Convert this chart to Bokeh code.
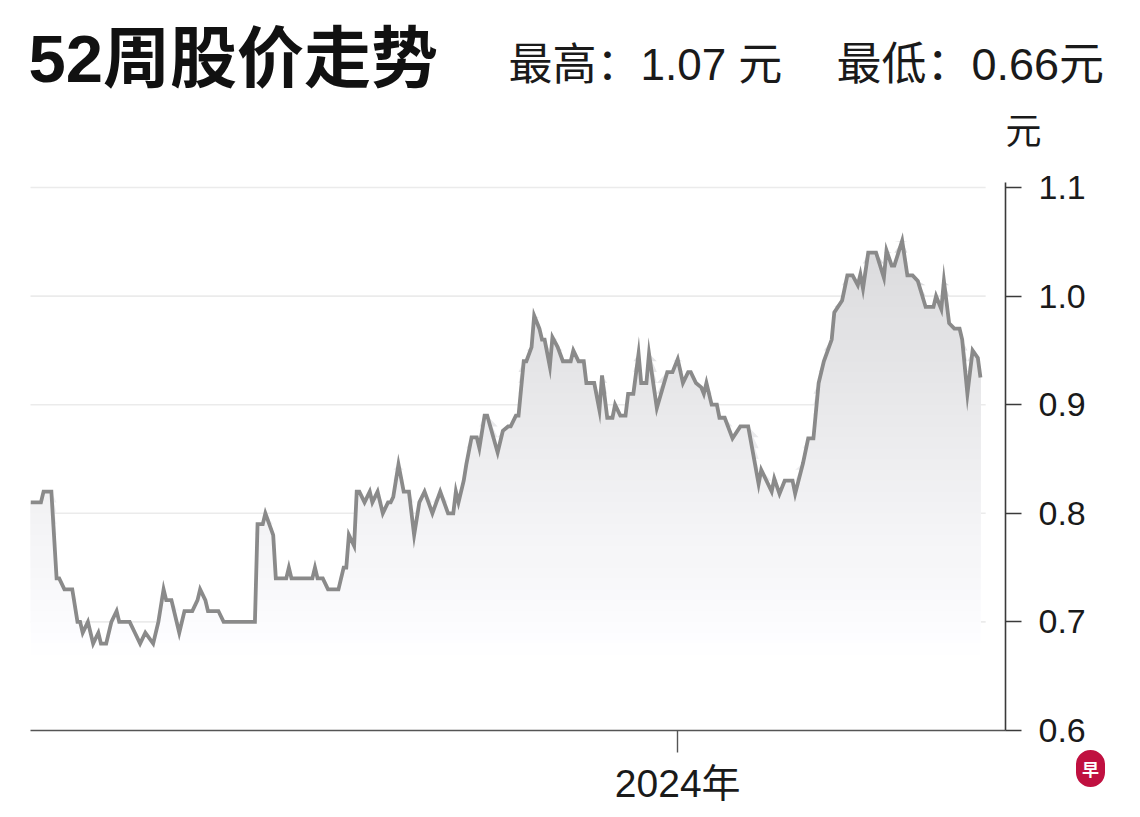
import numpy as np
import pandas as pd
from bokeh.plotting import figure
from bokeh.models import (Range1d, FixedTicker, PrintfTickFormatter, Label,
                          LinearAxis)
from bokeh.embed import file_html
from bokeh.resources import INLINE

# ---------------- data ----------------
start_date = "2023-04-28"
day_offsets = [0, 4, 5, 8, 10, 11, 13, 16, 18, 19, 20, 22, 24, 26, 27, 29, 31, 33, 34, 38,
               40, 42, 44, 47, 49, 51, 52, 54, 57, 59, 62, 64, 65, 67, 68, 72, 74, 86, 87, 89,
               90, 93, 94, 98, 99, 100, 108, 109, 110, 112, 114, 118, 120, 121, 122, 124, 125, 126, 128, 130,
               131, 133, 135, 137, 138, 139, 141, 143, 145, 147, 149, 151, 154, 157, 160, 162, 163, 164, 166, 167,
               169, 171, 172, 174, 175, 179, 181, 183, 184, 186, 187, 189, 190, 192, 193, 195, 196, 197, 199, 200,
               202, 204, 207, 208, 210, 212, 213, 216, 218, 219, 221, 223, 224, 226, 228, 229, 231, 233, 234, 236,
               237, 240, 244, 246, 248, 250, 252, 253, 255, 257, 258, 259, 261, 263, 264, 266, 269, 272, 275, 279,
               280, 284, 285, 287, 289, 292, 293, 296, 298, 300, 302, 304, 307, 308, 311, 313, 315, 317, 318, 319,
               321, 324, 327, 328, 330, 331, 334, 336, 338, 340, 343, 346, 347, 349, 350, 352, 354, 356, 357, 359,
               361, 363, 364]
price = [0.81, 0.81, 0.82, 0.82, 0.74, 0.74, 0.73, 0.73, 0.70, 0.70, 0.69, 0.70, 0.68, 0.69, 0.68, 0.68, 0.70, 0.71, 0.70, 0.70,
         0.69, 0.68, 0.69, 0.68, 0.70, 0.73, 0.72, 0.72, 0.69, 0.71, 0.71, 0.72, 0.73, 0.72, 0.71, 0.71, 0.70, 0.70, 0.79, 0.79,
         0.80, 0.78, 0.74, 0.74, 0.75, 0.74, 0.74, 0.75, 0.74, 0.74, 0.73, 0.73, 0.75, 0.75, 0.78, 0.77, 0.82, 0.82, 0.81, 0.82,
         0.81, 0.82, 0.80, 0.81, 0.81, 0.815, 0.845, 0.82, 0.82, 0.78, 0.81, 0.82, 0.80, 0.82, 0.80, 0.80, 0.82, 0.81, 0.83, 0.845,
         0.87, 0.87, 0.86, 0.89, 0.89, 0.856, 0.876, 0.88, 0.88, 0.89, 0.89, 0.94, 0.94, 0.953, 0.982, 0.97, 0.96, 0.96, 0.935, 0.962,
         0.953, 0.94, 0.94, 0.95, 0.94, 0.94, 0.92, 0.92, 0.895, 0.927, 0.888, 0.888, 0.90, 0.89, 0.89, 0.91, 0.91, 0.947, 0.92, 0.92,
         0.947, 0.897, 0.93, 0.93, 0.942, 0.92, 0.93, 0.93, 0.92, 0.916, 0.91, 0.92, 0.90, 0.90, 0.888, 0.888, 0.869, 0.88, 0.88, 0.827,
         0.84, 0.82, 0.832, 0.818, 0.83, 0.83, 0.818, 0.846, 0.869, 0.869, 0.92, 0.94, 0.96, 0.985, 0.996, 1.019, 1.019, 1.01, 1.02, 1.007,
         1.04, 1.04, 1.017, 1.042, 1.028, 1.028, 1.051, 1.019, 1.019, 1.014, 0.99, 0.99, 1.0, 0.988, 1.014, 0.975, 0.97, 0.97, 0.96, 0.91,
         0.95, 0.943, 0.925]

y_ticks = [0.6, 0.7, 0.8, 0.9, 1.0, 1.1]
x_tick_date = "2024-01-01"
x_tick_label = "2024年"
title_text = "52周股价走势"
high_text = "最高：1.07 元"
low_text = "最低：0.66元"
unit_text = "元"
logo_text = "早"

# ---------------- layout constants (pixels) ----------------
W, H = 1135, 812
F_LEFT, F_RIGHT, F_BOTTOM = 30, 1005, 730
F_TOP = 182
PX_PER_UNIT = 1086.0          # pixels per 1.0 of price
X_SPAN_DAYS = 373.6
FRAME_W = F_RIGHT - F_LEFT

t0 = pd.Timestamp(start_date)
dates = t0 + pd.to_timedelta(day_offsets, unit="D")
prices = np.array(price)

y_lo = 0.6
y_hi = y_lo + (F_BOTTOM - F_TOP) / PX_PER_UNIT
x_start = t0
x_end = t0 + pd.Timedelta(days=X_SPAN_DAYS)


def xpos(px):
    """page pixel column -> x data value, through the plot's linear scale"""
    return t0 + pd.Timedelta(days=(px - F_LEFT) / FRAME_W * X_SPAN_DAYS)


def ypos(py):
    """page pixel row -> y data value"""
    return y_lo + (F_BOTTOM - py) / PX_PER_UNIT


p = figure(width=W, height=H, x_axis_type="datetime",
           x_range=Range1d(x_start, x_end), y_range=Range1d(y_lo, y_hi),
           output_backend="svg", toolbar_location=None,
           min_border_left=F_LEFT, min_border_right=W - F_RIGHT,
           min_border_top=F_TOP, min_border_bottom=H - F_BOTTOM)
p.outline_line_color = None
p.background_fill_color = "white"
p.border_fill_color = "white"
p.xgrid.visible = False
p.ygrid.visible = False

g_x0 = dates[0] - pd.Timedelta(days=2)
g_x1 = dates[-1] + pd.Timedelta(days=2)
for yt in y_ticks[1:]:
    p.segment(x0=[g_x0], y0=[yt], x1=[g_x1], y1=[yt], line_color="#ebebeb", line_width=1.6)

levels = np.arange(0.60, 1.14, 0.01)
for lo in levels:
    frac = np.clip((lo - 0.66) / (1.06 - 0.66), 0, 1)
    shade = int(round(255 - frac * 38))
    col = "#%02x%02x%02x" % (shade, shade, min(255, shade + 2))
    top = np.maximum(prices, lo)
    p.varea(x=dates, y1=lo, y2=top, fill_color=col, fill_alpha=1.0)

p.line(dates, prices, line_color="#8a8a8a", line_width=3.8, line_join="miter")

p.yaxis.visible = False
yax = LinearAxis(ticker=FixedTicker(ticks=y_ticks),
                 formatter=PrintfTickFormatter(format="%.1f"))
yax.axis_line_color = "#3a3a3a"
yax.axis_line_width = 1.6
yax.major_tick_line_color = "#3a3a3a"
yax.major_tick_line_width = 1.4
yax.major_tick_in = 0
yax.major_tick_out = 16
yax.minor_tick_line_color = None
yax.major_label_standoff = 17
yax.major_label_text_font = "Liberation Sans"
yax.major_label_text_font_size = "34px"
yax.major_label_text_color = "#1a1a1a"
p.add_layout(yax, "right")

tick_ms = float(pd.Timestamp(x_tick_date).value // 10**6)
xax = p.xaxis[0]
xax.ticker = FixedTicker(ticks=[tick_ms])
xax.major_label_overrides = {tick_ms: x_tick_label}
xax.axis_line_color = "#555555"
xax.axis_line_width = 1.6
xax.major_tick_line_color = "#555555"
xax.major_tick_line_width = 1.4
xax.major_tick_in = 0
xax.major_tick_out = 22
xax.minor_tick_line_color = None
xax.major_label_standoff = 9
xax.major_label_text_font = "Liberation Sans, Noto Sans CJK SC"
xax.major_label_text_font_size = "39px"
xax.major_label_text_color = "#1a1a1a"

# ---- texts: placed in side panels (not clipped), positioned via the scales ----
p.add_layout(Label(x=xpos(28), y=ypos(58), text=title_text,
                   text_font="Liberation Sans, Noto Sans CJK SC", text_font_style="bold",
                   text_font_size="67px", text_color="#111111", text_baseline="middle"), "above")
p.add_layout(Label(x=xpos(508), y=ypos(64), text=high_text,
                   text_font="Liberation Sans, Noto Sans CJK SC",
                   text_font_size="44px", text_color="#1a1a1a", text_baseline="middle"), "above")
p.add_layout(Label(x=xpos(836), y=ypos(64), text=low_text,
                   text_font="Liberation Sans, Noto Sans CJK SC",
                   text_font_size="45px", text_color="#1a1a1a", text_baseline="middle"), "above")
p.add_layout(Label(x=xpos(1005), y=ypos(127), text=unit_text,
                   text_font="Noto Sans CJK SC",
                   text_font_size="36px", text_color="#1a1a1a", text_baseline="middle"), "right")
p.add_layout(Label(x=xpos(1090), y=ypos(768), text=logo_text,
                   text_font="Noto Sans CJK SC", text_font_style="bold",
                   text_font_size="17px", text_color="white",
                   text_align="center", text_baseline="middle",
                   background_fill_color="#c01040", padding=6, border_radius=15), "left")

open("out.html", "w").write(file_html(p, INLINE))
